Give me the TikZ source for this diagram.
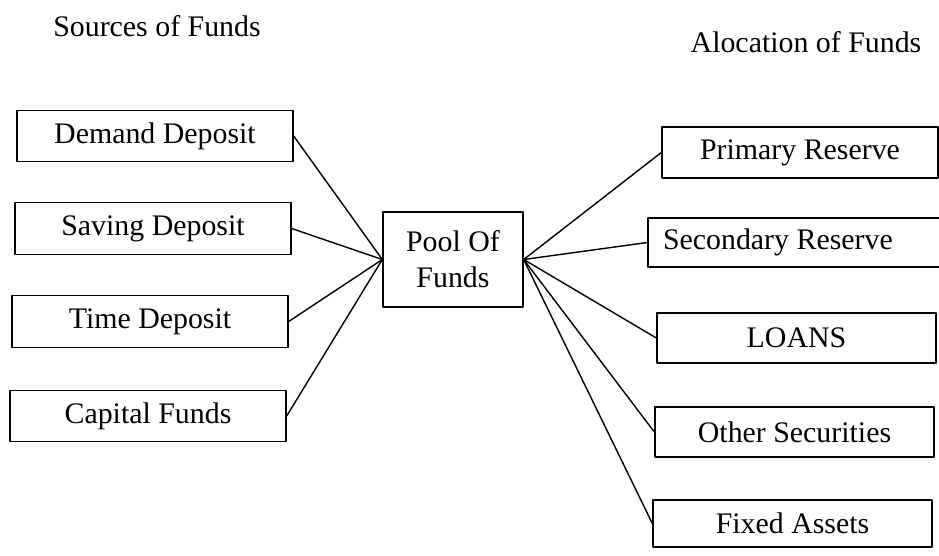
\documentclass[tikz,border=0pt]{standalone}
\usepackage{fontspec}
\setmainfont{Liberation Serif}
\begin{document}
\begin{tikzpicture}[x=0.02cm, y=-0.02cm, line join=round, line width=0.8pt,
    txt/.style={font=\fontsize{17}{20.5}\selectfont},
    box/.style={txt, draw, inner sep=0pt, minimum width=5.52cm, minimum height=1.03cm}]
      \useasboundingbox (0,0) rectangle (939,555);

      \node[txt] (sources) at (157,26) {Sources of Funds};
      \node[txt] (allocation) at (806,42) {Alocation of Funds};

      \node[box] (demand) at (155,136) {Demand Deposit};
      \node[box] (saving) at (153,228.5) {Saving Deposit};
      \node[box] (time) at (150,321.5) {Time Deposit};
      \node[box] (capital) at (148,416) {Capital Funds};

      \node[box, align=center, minimum width=2.8cm, minimum height=1.9cm] (pool) at (453,259.5) {Pool Of\\Funds};

      \node[box, minimum height=1.02cm] (primary) at (800,152.5) {Primary Reserve};
      \node[box, minimum width=6cm, minimum height=0.98cm, inner xsep=0.3cm, text width=5.4cm, align=flush left] (secondary) at (798,242.5) {Secondary Reserve};
      \node[box, minimum width=5.58cm, minimum height=1cm] (loans) at (796.5,338) {LOANS};
      \node[box, minimum width=5.58cm, minimum height=1cm] (other) at (794.5,432) {Other Securities};
      \node[box, minimum width=5.58cm, minimum height=0.94cm] (fixed) at (792.5,523.5) {Fixed Assets};

      \foreach \n in {demand,saving,time,capital}
      \draw (\n.east) -- (pool.west);
      \foreach \n in {primary,secondary,loans,other,fixed}
      \draw (pool.east) -- (\n.west);
    \end{tikzpicture}
\end{document}
